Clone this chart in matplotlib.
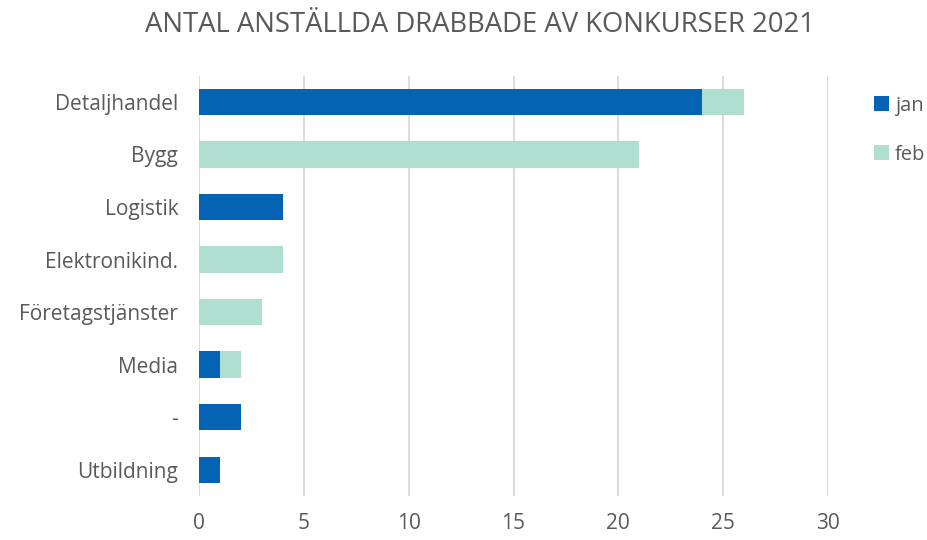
import matplotlib.pyplot as plt
import numpy as np

categories = ["Detaljhandel", "Bygg", "Logistik", "Elektronikind.", "Företagstjänster", "Media", "-", "Utbildning"]
jan = [24, 0, 4, 0, 0, 1, 2, 1]
feb = [2, 21, 0, 4, 3, 1, 0, 0]

c_jan = "#0563B4"
c_feb = "#B0DFD2"
txt = "#595959"

plt.rcParams['font.family'] = ['Open Sans', 'DejaVu Sans']

fig = plt.figure(figsize=(9.27, 5.40), dpi=100)
ax = fig.add_axes([0.2147, 0.0815, 0.6785, 0.7785])

y = np.arange(len(categories))
ax.barh(y, jan, height=0.5, color=c_jan, label="jan", zorder=3)
ax.barh(y, feb, left=jan, height=0.5, color=c_feb, label="feb", zorder=3)

ax.set_ylim(len(categories) - 0.5, -0.5)
ax.set_xlim(0, 30)
ax.set_xticks(range(0, 31, 5))
ax.set_yticks(y)
ax.set_yticklabels(categories)
ax.grid(axis="x", color="#D9D9D9", linewidth=1.3, zorder=0)
for s in ax.spines.values():
    s.set_visible(False)
ax.tick_params(length=0, labelsize=15, colors=txt)
ax.tick_params(axis="y", pad=15)
ax.tick_params(axis="x", pad=12)

fig.text(0.518, 0.953, "ANTAL ANSTÄLLDA DRABBADE AV KONKURSER 2021", ha="center", va="center",
         fontsize=19.8, color=txt)

leg = fig.legend(loc="upper left", bbox_to_anchor=(0.936, 0.834), frameon=False, fontsize=14.5,
                 handlelength=0.75, handleheight=0.75, handletextpad=0.3, labelspacing=1.45,
                 borderaxespad=0, borderpad=0.3)
for t in leg.get_texts():
    t.set_color(txt)

fig.savefig("out.png", dpi=100)
